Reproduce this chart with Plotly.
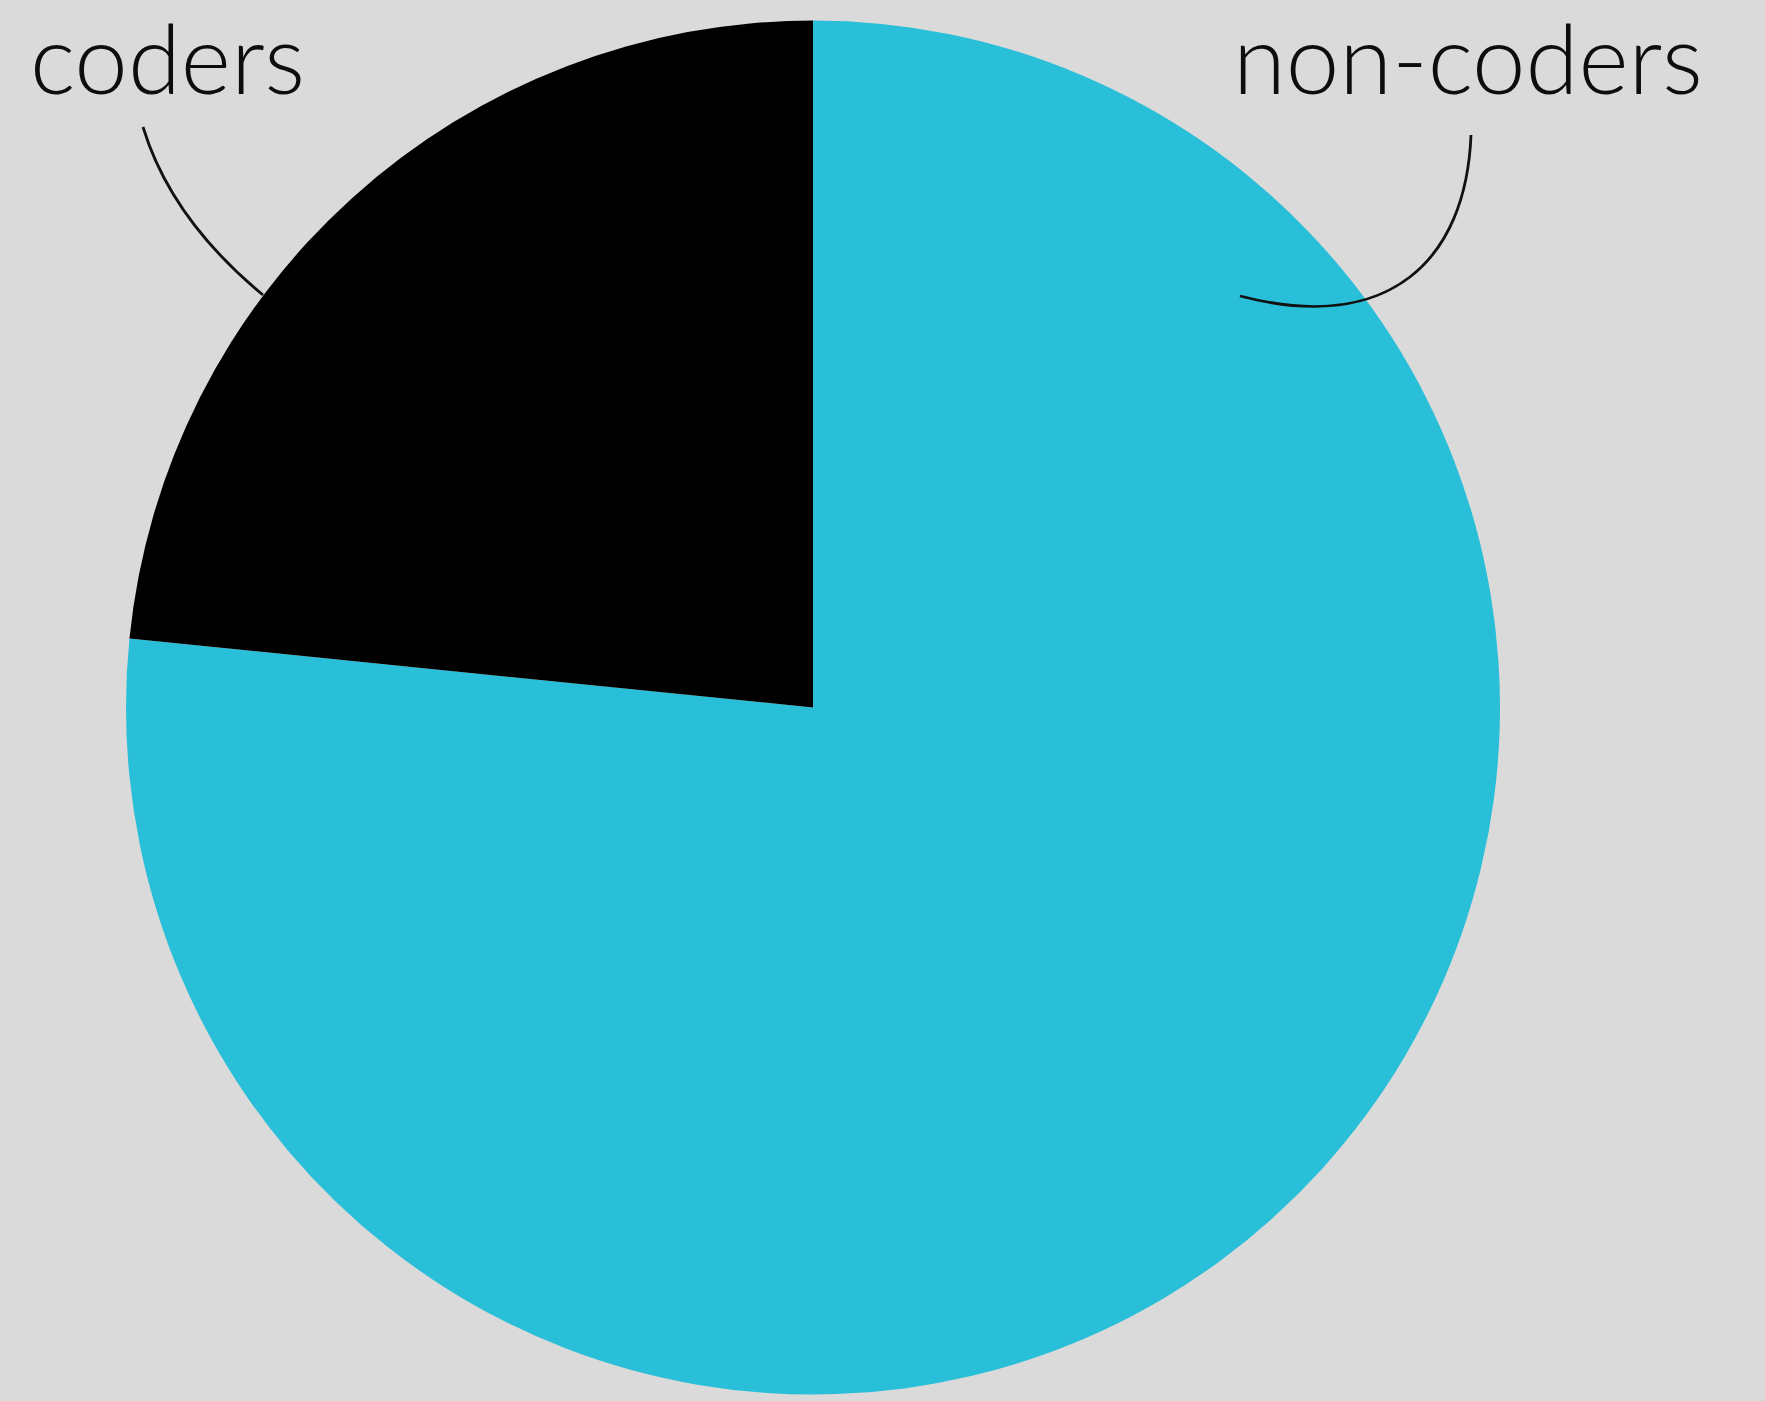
import plotly.graph_objects as go

W, H = 1765, 1401

# data (drawn clockwise from 12 o'clock)
categories = ["non-coders", "coders"]
shares = [76.6, 23.4]
slice_colors = ["#29bfd8", "#000000"]

def px(x, y):
    return x / W, 1 - y / H

fig = go.Figure()
fig.add_trace(go.Pie(
    labels=categories,
    values=shares,
    sort=False,
    direction="clockwise",
    rotation=0,
    marker=dict(colors=slice_colors, line=dict(width=0)),
    textinfo="none",
    hoverinfo="label+percent",
    showlegend=False,
    domain=dict(x=[126 / W, 1500 / W], y=[1 - 1395 / H, 1 - 20 / H]),
))

def path_str(cmd_pts):
    out = []
    for cmd, pts in cmd_pts:
        coords = " ".join(f"{px(x, y)[0]:.5f},{px(x, y)[1]:.5f}" for x, y in pts)
        out.append(f"{cmd} {coords}")
    return " ".join(out)

line_style = dict(color="#111111", width=2.8)
fig.add_shape(type="path", xref="paper", yref="paper",
              path=path_str([("M", [(143, 127)]), ("Q", [(171, 219), (263, 295)])]),
              line=line_style)
fig.add_shape(type="path", xref="paper", yref="paper",
              path=path_str([("M", [(1471, 135)]), ("C", [(1466, 260), (1390, 335), (1240, 296)])]),
              line=line_style)

font = dict(family="Lato, 'Open Sans', sans-serif", size=96, color="#0d0d0d", weight=300)
x0, y0 = px(28, 56)
fig.add_annotation(text=categories[1], x=x0, y=y0, xref="paper", yref="paper",
                   xanchor="left", yanchor="middle", showarrow=False, font=font)
x1, y1 = px(1705, 56)
fig.add_annotation(text=categories[0], x=x1, y=y1, xref="paper", yref="paper",
                   xanchor="right", yanchor="middle", showarrow=False, font=font)

fig.update_layout(
    width=W, height=H,
    margin=dict(l=0, r=0, t=0, b=0),
    paper_bgcolor="#d9dad9",
    plot_bgcolor="#d9dad9",
)

fig.write_html("out.html")
